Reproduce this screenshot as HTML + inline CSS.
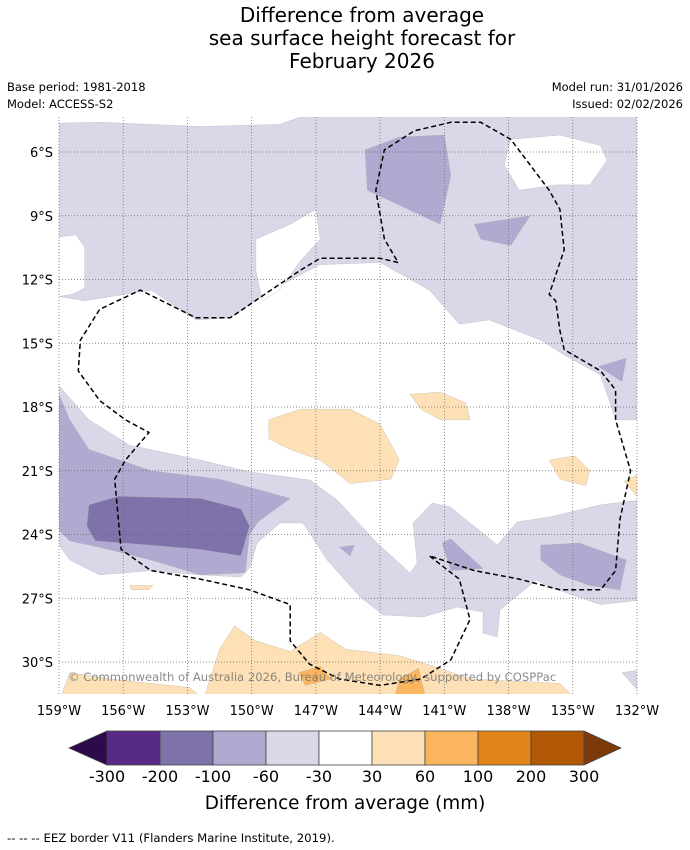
<!DOCTYPE html>
<html><head><meta charset="utf-8">
<style>
body{margin:0;background:#fff;width:690px;height:850px;overflow:hidden;font-family:"DejaVu Sans","Liberation Sans",sans-serif;}
svg{position:absolute;left:0;top:0}
</style></head>
<body>
<svg id="chart" width="690" height="850" viewBox="0 0 690 850" xmlns="http://www.w3.org/2000/svg">
<g font-size="20" text-anchor="middle" fill="#000">
<text x="362" y="22">Difference from average</text>
<text x="362" y="45">sea surface height forecast for</text>
<text x="362" y="68">February 2026</text>
</g>
<g font-size="11.5" fill="#000">
<text x="7" y="91">Base period: 1981-2018</text>
<text x="7" y="108">Model: ACCESS-S2</text>
<text x="683" y="91" text-anchor="end">Model run: 31/01/2026</text>
<text x="683" y="108" text-anchor="end">Issued: 02/02/2026</text>
</g>
<defs><clipPath id="mapclip"><rect x="59" y="117" width="578" height="577"/></clipPath></defs>
<g id="map" clip-path="url(#mapclip)"></g>
<g id="grid"></g>
<g id="eez"></g>
<text x="68" y="681" font-size="11.6" fill="#777" opacity="0.85">© Commonwealth of Australia 2026, Bureau of Meteorology, supported by COSPPac</text>
<g id="axes" font-size="13" fill="#000"></g>
<g id="cbar"></g>
<text x="345" y="809" font-size="18.4" text-anchor="middle">Difference from average (mm)</text>
<text x="7" y="842" font-size="11.7">--  --  -- EEZ border V11 (Flanders Marine Institute, 2019).</text>
</svg>
<script>
const lonTicks=[-159,-156,-153,-150,-147,-144,-141,-138,-135,-132];
const latTicks=[-6,-9,-12,-15,-18,-21,-24,-27,-30];
const cbarBounds=[-300,-200,-100,-60,-30,30,60,100,200,300];
const cbarColors=["#572a87","#7f72aa","#b0a9d0","#d8d8e9","#ffffff","#fde0b5","#fbb55f","#e1841a","#b15806"];
const extLow="#2d0a4b", extHigh="#7c3a0a";
const lavTop=[[-159,-4.64],[-157.1,-4.6],[-152.4,-4.8],[-148.7,-4.7],[-147.7,-4.35],[-132,-4.35],[-132,-18.6],[-133,-18.6],[-133.7,-16.5],[-135.4,-15.55],[-136.5,-14.85],[-138.9,-13.9],[-140.3,-14.1],[-141.7,-12.5],[-144,-11.2],[-146.8,-11.3],[-149.1,-12.5],[-151,-13.8],[-152.6,-13.9],[-154.7,-12.5],[-157.8,-13.0],[-159,-12.8]];
const holeLeft=[[-159,-10],[-158.2,-9.9],[-157.8,-10.5],[-157.8,-12.4],[-158.4,-12.7],[-159,-12.8]];
const holeMid=[[-149.8,-10.1],[-148.2,-9.4],[-147.0,-8.7],[-146.8,-10.1],[-147.7,-11.1],[-148.7,-12.5],[-149.5,-13.0],[-149.8,-11.6]];
const holeRight=[[-137.9,-5.4],[-135.6,-5.2],[-133.7,-5.7],[-133.4,-6.4],[-134.2,-7.55],[-135.8,-7.55],[-137.5,-7.8],[-138.2,-6.6]];
const medTop1=[[-144.7,-5.9],[-143.1,-5.3],[-141,-5.2],[-140.7,-7.1],[-141.2,-9.4],[-143.1,-8.5],[-144.6,-7.8]];
const medTop2=[[-139.6,-9.4],[-137,-9],[-137.9,-10.4],[-139.3,-10.1]];
const medTop3=[[-133.8,-16.1],[-132.5,-15.7],[-132.7,-16.8]];
const lavBottom=[[-159,-17.0],[-157.6,-18.6],[-155.7,-19.8],[-152.4,-20.5],[-150.07,-21.06],[-147.27,-21.44],[-146.0,-22.38],[-144.14,-24.4],[-142.6,-25.81],[-142.27,-25.34],[-142.46,-23.46],[-141.57,-22.52],[-140.73,-22.7],[-138.53,-24.49],[-137.6,-23.41],[-136.06,-23.17],[-133.7,-22.6],[-132,-22.4],[-132,-27.1],[-133.7,-27.3],[-136.06,-26.47],[-136.7,-26.14],[-138.4,-27.55],[-138.53,-28.82],[-139.19,-28.64],[-139.19,-27.65],[-140.4,-27.41],[-141.99,-27.88],[-143.86,-27.79],[-144.93,-26.94],[-146.48,-25.2],[-147.6,-23.46],[-148.67,-23.46],[-149.75,-24.4],[-150.07,-25.53],[-150.5,-26.0],[-152.4,-25.9],[-154.7,-25.7],[-157.1,-25.9],[-158.5,-25.2],[-159,-24.5]];
const medBottom=[[-159,-17.4],[-158.5,-18.6],[-157.6,-20.0],[-154.7,-21.0],[-151.5,-21.4],[-148.2,-22.3],[-149.7,-23.4],[-150.1,-24.0],[-150.3,-25.8],[-152.4,-25.9],[-154.7,-25.2],[-157.1,-24.6],[-158.5,-24.3],[-159,-23.8]];
const darkBottom=[[-157.6,-22.6],[-156.2,-22.2],[-152.4,-22.3],[-150.5,-22.8],[-150.1,-23.6],[-150.5,-25.0],[-152.4,-24.7],[-154.7,-24.5],[-157.3,-24.3],[-157.7,-23.6]];
const medRight1=[[-141.1,-24.4],[-140.7,-24.2],[-139.2,-25.6],[-140.7,-25.7]];
const medRight2=[[-136.5,-24.5],[-134.7,-24.4],[-132.5,-25.2],[-132.8,-26.6],[-134.2,-26.4],[-135.6,-25.9],[-136.5,-25.2]];
const medSmall=[[-145.9,-24.6],[-145.2,-24.5],[-145.4,-25.0]];
const lavBR=[[-132.7,-30.5],[-132,-30.4],[-132,-31.3]];
const or1=[[-149.2,-18.6],[-147.7,-18.1],[-145.4,-18.1],[-144,-18.8],[-143.1,-20.5],[-143.5,-21.4],[-145.4,-21.6],[-146.8,-20.5],[-148.2,-20.0],[-149.2,-19.5]];
const or2=[[-142.6,-17.4],[-141.2,-17.3],[-140,-17.8],[-139.8,-18.6],[-141.2,-18.6],[-142.1,-18.1]];
const or3=[[-136.1,-20.5],[-134.9,-20.3],[-134.2,-21.0],[-134.4,-21.7],[-135.6,-21.4]];
const or4=[[-132.6,-21.5],[-132,-21.2],[-132,-22.2]];
const or5=[[-158.9,-31.6],[-158.5,-30.5],[-156.6,-30.8],[-152.9,-31.2],[-152.4,-31.6]];
const or6=[[-152.2,-31.6],[-151.5,-29.4],[-150.8,-28.3],[-149.8,-29.0],[-148.2,-29.5],[-146.8,-28.6],[-145.6,-29.4],[-143.1,-29.7],[-141.2,-30.3],[-139.8,-30.8],[-135.6,-31.0],[-135.0,-31.6]];
const or7=[[-155.7,-26.4],[-154.6,-26.4],[-154.8,-26.6],[-155.6,-26.6]];
const orMed1=[[-147.8,-30.5],[-146.8,-30.2],[-146.3,-30.8],[-147.5,-31.1]];
const orMed2=[[-143.1,-30.8],[-142.2,-30.3],[-141.9,-31.6],[-143.3,-31.6]];
const eezMain=[[-143.16,-11.2],[-144.0,-11.0],[-146.8,-11.0],[-147.7,-11.55],[-149.1,-12.5],[-151.0,-13.8],[-152.6,-13.8],[-155.2,-12.5],[-157.1,-13.4],[-158.0,-14.85],[-158.1,-16.3],[-157.1,-17.7],[-155.9,-18.6],[-154.8,-19.2],[-155.9,-20.5],[-156.4,-21.4],[-156.1,-24.7],[-154.7,-25.7],[-152.4,-26.1],[-150.1,-26.6],[-148.2,-27.3],[-148.2,-29.0],[-147.3,-30.1],[-145.9,-30.8],[-144.0,-31.1],[-142.1,-30.8],[-140.7,-29.9],[-139.8,-28.0],[-140.3,-26.1],[-141.7,-25.0],[-139.6,-25.7],[-137.5,-26.1],[-135.6,-26.6],[-133.7,-26.6],[-133.0,-25.7],[-132.8,-23.3],[-132.3,-21.0],[-133.0,-18.6],[-133.0,-17.2],[-133.7,-16.3],[-135.4,-15.3],[-135.6,-14.4],[-135.8,-13.0],[-136.1,-12.7],[-135.4,-10.6],[-135.6,-8.7],[-136.1,-7.8],[-137.0,-6.6],[-137.9,-5.4],[-139.3,-4.6],[-140.7,-4.6],[-142.4,-5.0],[-143.8,-5.9],[-144.2,-7.8],[-143.8,-10.1],[-143.16,-11.2]];

const X0=59,X1=637,Y0=117,Y1=694;
const lonMin=-159,lonMax=-132;
const xs=lon=>X0+(lon-lonMin)/(lonMax-lonMin)*(X1-X0);
const ys=lat=>152+(-6-lat)*21.25;
const NS="http://www.w3.org/2000/svg";
function mk(tag,attrs,parent){const e=document.createElementNS(NS,tag);for(const k in attrs)e.setAttribute(k,attrs[k]);parent.appendChild(e);return e;}
const ptsStr=a=>a.map(p=>xs(p[0]).toFixed(1)+","+ys(p[1]).toFixed(1)).join(" ");
const map=document.getElementById("map");
function poly(arr,color,name){const p=mk("polygon",{points:ptsStr(arr),fill:color,stroke:"#aaa",'stroke-width':0.3,'stroke-linejoin':'round'},map);

}
poly(lavTop,cbarColors[3],"contour-lavender-north");
poly(holeLeft,"#fff","contour-white-west");
poly(holeMid,"#fff","contour-white-central");
poly(holeRight,"#fff","contour-white-northeast");
poly(medTop1,cbarColors[2],"contour-purple-marquesas");
poly(medTop2,cbarColors[2],"contour-purple-north-east");
poly(medTop3,cbarColors[2],"contour-purple-east");
poly(lavBottom,cbarColors[3],"contour-lavender-south");
poly(medBottom,cbarColors[2],"contour-purple-southwest");
poly(darkBottom,cbarColors[1],"contour-dark-purple-southwest");
poly(medRight1,cbarColors[2],"contour-purple-south-1");
poly(medRight2,cbarColors[2],"contour-purple-south-2");
poly(medSmall,cbarColors[2],"contour-purple-small");
poly(lavBR,cbarColors[3],"contour-lavender-southeast");
poly(or1,cbarColors[5],"contour-orange-tahiti");
poly(or2,cbarColors[5],"contour-orange-tuamotu");
poly(or3,cbarColors[5],"contour-orange-east");
poly(or4,cbarColors[5],"contour-orange-edge");
poly(or5,cbarColors[5],"contour-orange-sw");
poly(or6,cbarColors[5],"contour-orange-south");
poly(or7,cbarColors[5],"contour-orange-small");
poly(orMed1,cbarColors[6],"contour-orange-mid-1");
poly(orMed2,cbarColors[6],"contour-orange-mid-2");

const grid=document.getElementById("grid");
lonTicks.forEach(l=>{const e=mk("line",{x1:xs(l),x2:xs(l),y1:Y0,y2:Y1,stroke:"#666",'stroke-width':0.7,'stroke-dasharray':'1,2'},grid);

});
latTicks.forEach(l=>{const e=mk("line",{x1:X0,x2:X1,y1:ys(l),y2:ys(l),stroke:"#666",'stroke-width':0.7,'stroke-dasharray':'1,2'},grid);

});

const eez=document.getElementById("eez");
const ez=mk("polyline",{points:ptsStr(eezMain),fill:"none",stroke:"#000",'stroke-width':1.5,'stroke-dasharray':'5,3'},eez);



const axes=document.getElementById("axes");
lonTicks.forEach(l=>{const t=mk("text",{x:xs(l),y:715,'text-anchor':'middle'},axes);t.textContent=Math.abs(l)+"°W";

});
latTicks.forEach(l=>{const t=mk("text",{x:53,y:ys(l)+5,'text-anchor':'end'},axes);t.textContent=Math.abs(l)+"°S";

});

const cb=document.getElementById("cbar");
const cbX0=107,cbW=53,cbY=731,cbH=34;
const lo=mk("polygon",{points:`${cbX0},${cbY} ${cbX0},${cbY+cbH} 69,${cbY+cbH/2}`,fill:extLow,stroke:"#444",'stroke-width':0.8},cb);


cbarColors.forEach((c,i)=>{const r=mk("rect",{x:cbX0+i*cbW,y:cbY,width:cbW,height:cbH,fill:c,stroke:"#444",'stroke-width':0.8},cb);

});
const xe=cbX0+cbarColors.length*cbW;
const hi=mk("polygon",{points:`${xe},${cbY} ${xe},${cbY+cbH} ${xe+37},${cbY+cbH/2}`,fill:extHigh,stroke:"#444",'stroke-width':0.8},cb);


cbarBounds.forEach((b,i)=>{const t=mk("text",{x:cbX0+i*cbW,y:782,'text-anchor':'middle','font-size':16},cb);t.textContent=b;

});
</script>
</body></html>
